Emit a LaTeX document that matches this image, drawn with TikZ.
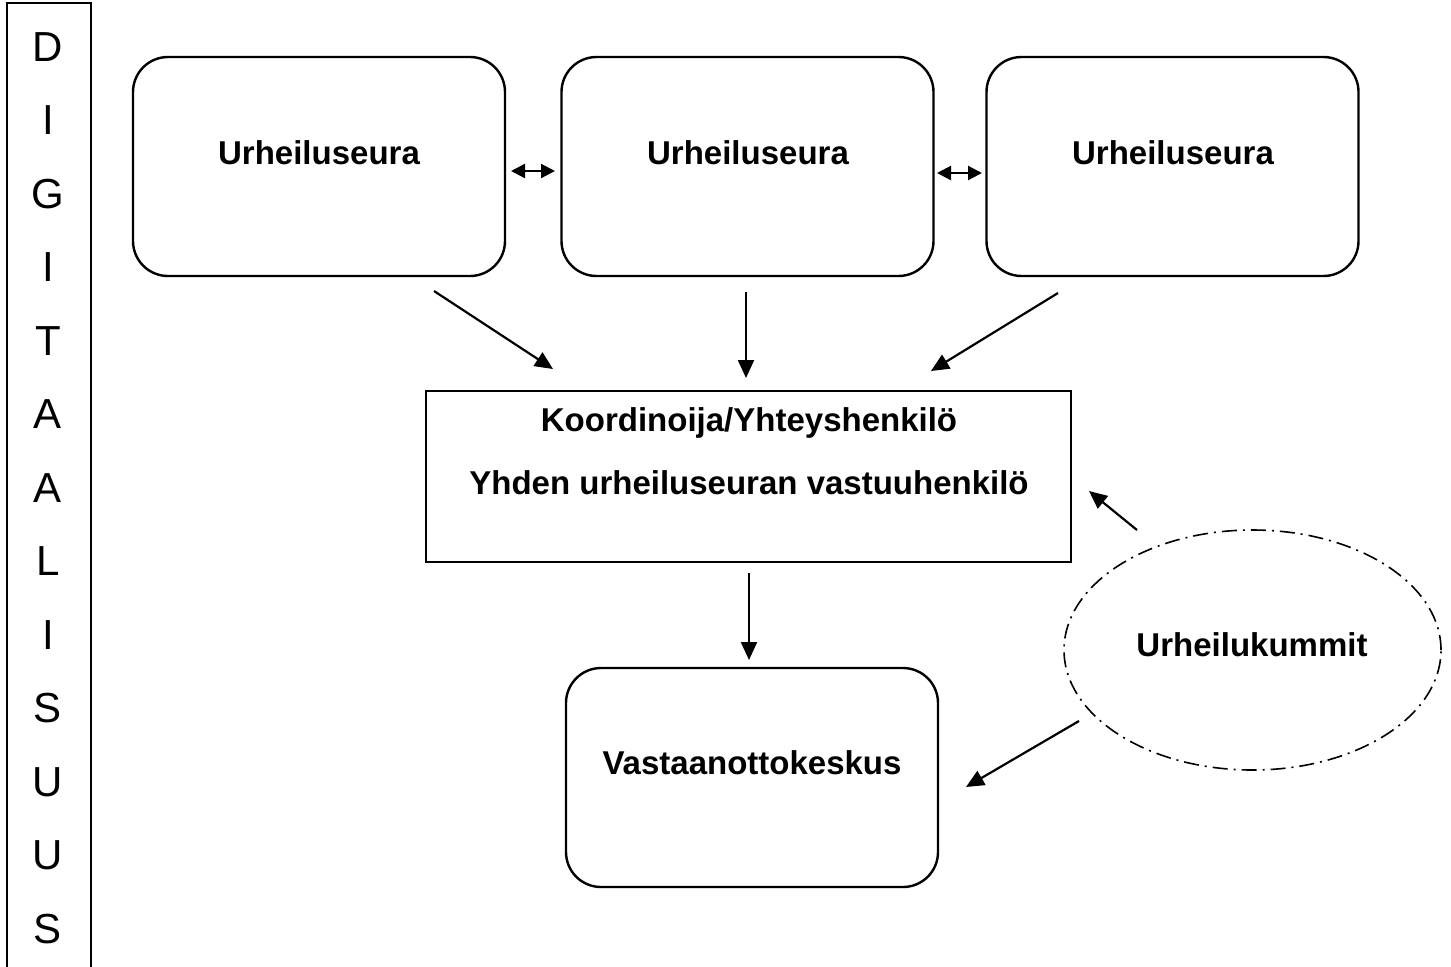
\documentclass[tikz,border=0pt]{standalone}
\usepackage{fontspec}
\setmainfont{Liberation Sans}
\usetikzlibrary{arrows.meta,shapes.geometric}
\begin{document}
\begin{tikzpicture}[x=0.5pt,y=-0.5pt,
  rbox/.style={draw,line width=1.2pt,rounded corners=17.5pt,minimum width=186pt,minimum height=109.5pt,inner sep=0pt},
  lbl/.style={font=\fontsize{16.5pt}{19pt}\selectfont\bfseries,inner sep=0pt},
  letter/.style={font=\fontsize{21pt}{24pt}\selectfont,inner sep=0pt},
  arr/.style={line width=1.1pt,-{Triangle[length=9pt,width=8pt]}},
  darr/.style={line width=1.1pt,{Triangle[length=7pt,width=7pt]}-{Triangle[length=7pt,width=7pt]}},
  dashdot/.style={draw,line width=0.8pt,dash pattern=on 7.5pt off 3pt on 1pt off 3pt}]
\useasboundingbox (0,0) rectangle (1451,966);
% left vertical box
\draw[line width=1.2pt] (7,3) rectangle (91,990);
\foreach \t [count=\i from 0] in {D,I,G,I,T,A,A,L,I,S,U,U,S}
  \node[letter] (l\i) at (48,{47+73.5*\i}) {\t};
% top boxes
\node[rbox] (b1) at (319,166.5) {};
\node[rbox] (b2) at (747.5,166.5) {};
\node[rbox] (b3) at (1172.5,166.5) {};
\node[lbl] (t1) at (319,153) {Urheiluseura};
\node[lbl] (t2) at (748,153) {Urheiluseura};
\node[lbl] (t3) at (1173,153) {Urheiluseura};
% double arrows
\coordinate (d1a) at (511,171); \coordinate (d1b) at (555,171);
\coordinate (d2a) at (937,173); \coordinate (d2b) at (982,173);
\draw[darr] (d1a) -- (d1b);
\draw[darr] (d2a) -- (d2b);
% coordinator box
\node[draw,line width=1.2pt,minimum width=322.5pt,minimum height=85.5pt,inner sep=0pt] (k) at (748.5,476.5) {};
\node[lbl] (k1) at (749,423) {Koordinoija/Yhteyshenkilö};
\node[lbl] (k2) at (749,483) {Yhden urheiluseuran vastuuhenkilö};
% arrows into coordinator
\coordinate (a1s) at (434,291); \coordinate (a1e) at (553,369);
\coordinate (a2s) at (746,292); \coordinate (a2e) at (746,378);
\coordinate (a3s) at (1058,293); \coordinate (a3e) at (931,371);
\draw[arr] (a1s) -- (a1e);
\draw[arr] (a2s) -- (a2e);
\draw[arr] (a3s) -- (a3e);
% reception centre
\node[rbox] (v) at (752,777.5) {};
\node[lbl] (vt) at (752,763) {Vastaanottokeskus};
\coordinate (a4s) at (749,573); \coordinate (a4e) at (749,660);
\draw[arr] (a4s) -- (a4e);
% sports mentors ellipse
\node[ellipse,dashdot,minimum width=188.5pt,minimum height=120pt,inner sep=0pt] (u) at (1252.5,650) {};
\node[lbl] (ut) at (1252,645) {Urheilukummit};
\coordinate (a5s) at (1137,530); \coordinate (a5e) at (1089,491);
\coordinate (a6s) at (1079,721); \coordinate (a6e) at (966,787);
\draw[arr] (a5s) -- (a5e);
\draw[arr] (a6s) -- (a6e);
\end{tikzpicture}
\end{document}
